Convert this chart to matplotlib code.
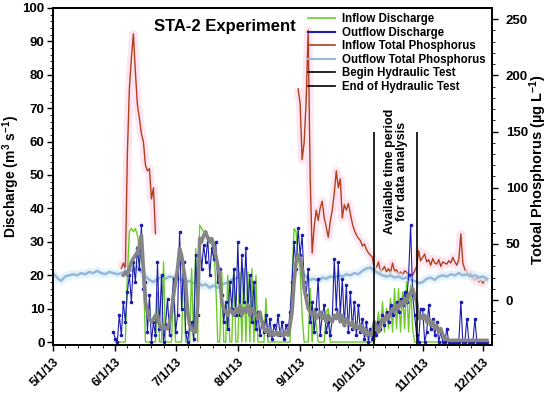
import numpy as np
import pandas as pd
import matplotlib
matplotlib.use("Agg")
import matplotlib.pyplot as plt
import matplotlib.dates as mdates
from matplotlib.lines import Line2D
from matplotlib.ticker import MultipleLocator, FixedLocator

plt.rcParams['font.family'] = ['Liberation Sans', 'DejaVu Sans']
plt.rcParams['font.weight'] = 'bold'
plt.rcParams['mathtext.fontset'] = 'custom'
plt.rcParams['mathtext.rm'] = 'Liberation Sans:bold'
plt.rcParams['mathtext.bf'] = 'Liberation Sans:bold'
plt.rcParams['mathtext.default'] = 'bf'

# ---- data (daily unless noted) ----
# inflow discharge, m3/s, daily from 6/1/13
q_in_start = "2013-06-01"
q_in = [
    0, 0, 0, 0, 0, 0, 20, 33, 34, 33, 34, 32, 28, 24, 21, 0, 0, 0, 0, 0, 0, 15, 0, 0, 24, 0, 0, 0, 0, 17,
    0, 0, 0, 0, 24, 0, 0, 0, 22, 0, 28, 0, 35, 34, 33, 33, 32, 30, 29, 28, 18, 0, 0, 21, 0, 0, 20, 0, 0, 22, 0,
    0, 21, 0, 22, 0, 21, 0, 22, 0, 20, 0, 0, 0, 0, 13, 0, 0, 0, 0, 0, 0, 0, 0, 0, 0, 0, 0, 20, 34, 33, 25,
    22, 8, 0, 0, 0, 16, 0, 10, 5, 0, 0, 0, 0, 9, 10, 0, 0, 0, 0, 0, 0, 0, 0, 0, 0, 0, 0, 0, 0, 0,
    0, 0, 0, 0, 0, 0, 0, 0, 4, 9, 3, 12, 3, 10, 4, 13, 3, 16, 4, 16, 3, 15, 4, 18, 3, 17, 4, 0, 0, 0, 0,
    0, 0, 0, 0, 0, 0, 0, 0, 0, 0, 0, 0, 0, 0, 0, 0, 0, 0, 0, 0, 0, 0, 0, 0, 0, 0, 0, 0, 0, 0,
    0, 0, 0,
]

# outflow discharge, m3/s, daily from 5/31/13
q_out_start = "2013-05-31"
q_out = [
    3,
    1, 0, 8, 2, 12, 6, 15, 20, 12, 24, 18, 28, 22, 35, 16, 18, 3, 14, 0, 6, 2, 24, 4, 20, 0, 5, 13, 2, 11, 19,
    3, 8, 33, 10, 24, 3, 0, 5, 6, 1, 26, 8, 30, 22, 29, 24, 31, 20, 28, 25, 30, 18, 22, 14, 6, 12, 4, 18, 10, 22, 8,
    30, 8, 26, 12, 28, 10, 20, 6, 18, 4, 9, 2, 6, 3, 8, 2, 7, 1, 5, 3, 8, 2, 6, 1, 5, 3, 9, 18, 30, 22, 34,
    26, 32, 18, 14, 22, 6, 12, 3, 10, 19, 2, 8, 11, 3, 6, 2, 7, 25, 10, 24, 8, 19, 5, 17, 3, 15, 4, 12, 2, 11,
    3, 7, 1, 6, 0, 4, 1, 3, 2, 6, 4, 8, 5, 9, 6, 11, 8, 10, 12, 9, 13, 11, 15, 12, 20, 35, 14, 8, 2, 0, 10,
    10, 0, 3, 11, 4, 7, 2, 6, 0, 3, 0, 0, 4, 0, 0, 0, 0, 0, 0, 12, 0, 0, 7, 0, 0, 0, 7, 0, 0, 0,
    0, 0, 0,
]

# smoothed outflow discharge (grey trace), daily from 6/5/13
q_out_smooth_start = "2013-06-05"
q_out_smooth = [
    20, 21, 20, 22, 24, 25, 26, 27, 29, 32, 22, 12, 9, 7, 6, 7, 8, 8, 5, 4, 5, 4, 4, 6, 9, 14,
    18, 22, 28, 26, 22, 18, 9, 5, 4, 3, 3, 11, 31, 30, 32, 33, 31, 30, 31, 29, 26, 23, 20, 12, 10, 9, 8, 10, 9, 8, 10,
    9, 11, 8, 10, 9, 11, 8, 10, 9, 8, 7, 9, 6, 4, 3, 4, 2, 3, 2, 3, 2, 3, 2, 2, 3, 2, 5, 9, 18, 24, 26,
    25, 22, 16, 13, 10, 9, 8, 9, 7, 8, 9, 7, 8, 6, 8, 7, 6, 8, 7, 9, 6, 8, 5, 7, 6, 5, 6, 4, 5, 4,
    5, 3, 4, 2, 3, 2, 3, 6, 4, 3, 5, 7, 6, 8, 7, 9, 10, 9, 11, 10, 12, 11, 13, 12, 14, 15, 16, 14, 12, 7, 8,
    7, 8, 6, 7, 5, 6, 4, 5, 3, 4, 2, 1, 1, 0.5, 0.5, 0.5, 0.5, 0.5, 0.5, 0.5, 0.5, 0.5, 0.5, 0.5, 0.5, 0.5, 0.5, 0.5, 0.5, 0.5,
    0.5, 0.5, 0.5,
]

# inflow total phosphorus, ug/L, daily
tp_in_a_start = "2013-06-04"
tp_in_a = [28, 33, 27, 130, 188, 215, 237, 203, 174, 162, 148, 141, 120, 115, 117, 90, 100, 59]
tp_in_b_start = "2013-08-31"
tp_in_b = [
    188,
    175, 125, 140, 177, 240, 110, 42, 65, 80, 71, 82, 88, 73, 65, 56, 70, 80, 95, 115, 100, 108, 73, 85, 80, 86, 77, 68, 62, 58, 55,
    53, 48, 50, 45, 42, 40, 38, 26, 29, 34, 25, 27, 30, 25, 28, 24, 33, 26, 27, 23, 25, 22, 26, 25, 21, 23, 22, 26, 30, 44, 35,
    38, 41, 34, 36, 31, 37, 33, 32, 36, 30, 34, 33, 32, 35, 33, 38, 34, 31, 36, 59, 33, 27, 25, 22, 24, 19, 18, 20, 16, 18,
    15, 18, 17,
]

# outflow total phosphorus, ug/L, every 2 days
tp_out_a_start = "2013-05-01"
tp_out_a = [
    24, 20, 17, 21, 22, 23, 22, 24, 23, 25, 24, 26, 24, 23, 25, 24,
    23, 24, 25, 27, 26, 30, 25, 21, 18, 16, 19, 20, 19, 21, 20,
    19, 18, 16, 17, 15, 16, 13, 14, 11, 13, 11, 14, 15, 17, 19,
    20,
]
tp_out_b_start = "2013-09-02"
tp_out_b = [
    24, 21, 18, 19, 17, 20, 19, 21, 20, 22, 21, 23, 22, 24, 23,
    26, 28, 29, 26, 24, 22, 21, 22, 20, 21, 19, 20, 18, 17, 15,
    16, 19, 20, 18, 21, 22, 21, 23, 22, 24, 22, 23, 21, 22, 20,
    21, 19,
]

test_begin = "2013-10-08"
test_end = "2013-10-29"
month_ticks = ["2013-05-01", "2013-06-01", "2013-07-01", "2013-08-01",
               "2013-09-01", "2013-10-01", "2013-11-01", "2013-12-01"]
month_labels = ["5/1/13", "6/1/13", "7/1/13", "8/1/13", "9/1/13", "10/1/13", "11/1/13", "12/1/13"]


def days(start, values, step="1D"):
    return pd.date_range(start, periods=len(values), freq=step)


fig = plt.figure(figsize=(5.5, 3.99), dpi=100)
ax = fig.add_axes([0.0964, 0.1353, 0.7981, 0.8447])
ax2 = ax.twinx()
ax.set_zorder(ax2.get_zorder() + 1)
ax.patch.set_visible(False)

c_in_q = '#6ccb2a'
c_out_q = '#1c1cb0'
c_in_tp = '#b0401c'
c_out_tp = '#9ab6da'

# phosphorus (right axis)
for st, vals in [(tp_in_a_start, tp_in_a), (tp_in_b_start, tp_in_b)]:
    ax2.plot(days(st, vals), vals, color='#ffd3ea', lw=6, alpha=0.6, solid_capstyle='butt')
    ax2.plot(days(st, vals), vals, color=c_in_tp, lw=1.0)
for st, vals in [(tp_out_a_start, tp_out_a), (tp_out_b_start, tp_out_b)]:
    ax2.plot(days(st, vals, "2D"), vals, color='#d6f3f7', lw=6, alpha=0.7)
    ax2.plot(days(st, vals, "2D"), vals, color=c_out_tp, lw=1.8)

# discharge (left axis)
ax.plot(days(q_in_start, q_in), q_in, color=c_in_q, lw=1.0)
ax.plot(days(q_out_start, q_out), q_out, color=c_out_q, lw=0.8,
        marker='o', ms=1.6, mec=c_out_q, mfc=c_out_q)
ax.plot(days(q_out_smooth_start, q_out_smooth), q_out_smooth, color='#858585', lw=2.6)

ax.vlines(pd.to_datetime([test_begin, test_end]), -0.9, 63, color='black', lw=1.2)
mid = pd.to_datetime(test_begin) + (pd.to_datetime(test_end) - pd.to_datetime(test_begin)) / 2
ax.text(mid, 51, "Available time period\nfor data analysis", rotation=90,
        ha='center', va='center', fontsize=9, fontweight='bold', linespacing=1.0)

ax.text(0.23, 0.944, "STA-2 Experiment", transform=ax.transAxes,
        ha='left', va='center', fontsize=12, fontweight='bold')

# axes
ax.set_xlim(pd.Timestamp("2013-05-01"), pd.Timestamp("2013-12-05 12:00"))
ax.set_ylim(-0.9, 100)
ax2.set_ylim(-40, 260)
ax.yaxis.set_major_locator(MultipleLocator(10))
ax.yaxis.set_minor_locator(MultipleLocator(2))
ax2.yaxis.set_major_locator(FixedLocator([0, 50, 100, 150, 200, 250]))
ax2.yaxis.set_minor_locator(FixedLocator(np.arange(-30, 260, 10)))

mt = pd.to_datetime(month_ticks)
ax.xaxis.set_major_locator(FixedLocator(mdates.date2num(mt)))
ax.set_xticklabels(month_labels, rotation=45, ha='right', va='top',
                   rotation_mode='anchor', fontsize=9, fontweight='bold')
minor = []
edges = list(mt) + [pd.Timestamp("2014-01-01")]
for a, b in zip(edges[:-1], edges[1:]):
    n = mdates.date2num(a)
    step = (mdates.date2num(b) - n) / 5
    minor += [n + k * step for k in range(1, 5)]
ax.xaxis.set_minor_locator(FixedLocator(minor))

for a in (ax, ax2):
    a.tick_params(which='major', direction='out', length=4, width=1, labelsize=9.5)
    a.tick_params(which='minor', direction='out', length=2, width=0.6)
    for s in a.spines.values():
        s.set_linewidth(1.3)
for lab in ax.get_yticklabels() + ax2.get_yticklabels():
    lab.set_fontweight('bold')
ax.tick_params(axis='x', labelsize=9, pad=4)
ax.tick_params(axis='y', pad=2)
ax2.tick_params(axis='y', pad=6)

ax.set_ylabel("Discharge (m$^{3}$ s$^{-1}$)", fontsize=10, fontweight='bold', va='center')
ax.yaxis.set_label_coords(-0.095, 0.5)
ax2.set_ylabel("Totoal Phosphorus (\u00b5g L$^{-1}$)", fontsize=10.5, fontweight='bold', va='center')
ax2.yaxis.set_label_coords(1.105, 0.52)

handles = [
    Line2D([], [], color=c_in_q, lw=1.2),
    Line2D([], [], color=c_out_q, lw=1.5),
    Line2D([], [], color=c_in_tp, lw=1.2),
    Line2D([], [], color=c_out_tp, lw=1.5),
    Line2D([], [], color='black', lw=1.2),
    Line2D([], [], color='black', lw=1.2),
]
labels = ["Inflow Discharge", "Outflow Discharge", "Inflow Total Phosphorus",
          "Outflow Total Phosphorus", "Begin Hydraulic Test", "End of Hydraulic Test"]
leg = ax.legend(handles, labels, loc='upper left', bbox_to_anchor=(0.581, 0.985),
                frameon=False, fontsize=8.3, handlelength=2.35, handletextpad=0.6,
                labelspacing=0.14, borderpad=0, borderaxespad=0)
for t in leg.get_texts():
    t.set_fontweight('bold')

fig.savefig("out.png", dpi=100)
